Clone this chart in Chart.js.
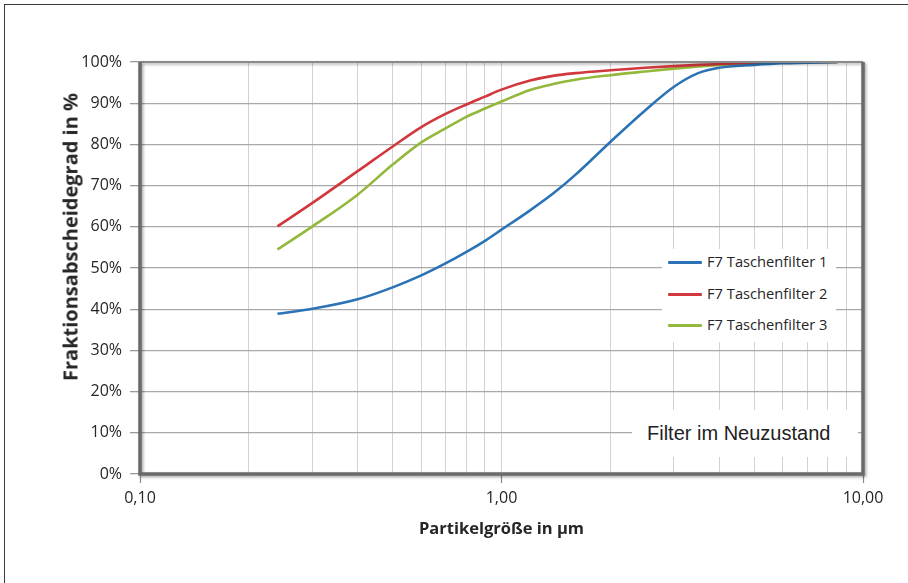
<!DOCTYPE html>
<html lang="de">
<head>
<meta charset="utf-8">
<script src="https://cdn.jsdelivr.net/npm/chart.js@4"></script>
<style>
  html, body { margin: 0; padding: 0; background: #fff; }
  #wrap { position: relative; width: 908px; height: 583px; overflow: hidden; background: #fff; }
  #frame { position: absolute; left: 4px; top: 4px; width: 940px; height: 620px; border: 1px solid #3a3a3a; box-sizing: border-box; }
  canvas { position: absolute; left: 0; top: 0; }
  #ytitle { position: absolute; left: 70px; top: 237px; transform: translate(-50%, -50%) rotate(-90deg);
            font: bold 20px "Open Sans", sans-serif; color: #262626; white-space: nowrap; }
  #legend { position: absolute; left: 662px; top: 249px; width: 174px; height: 93px; background: #fff; }
  .lg { position: absolute; left: 0; height: 20px; font: 14.7px "Open Sans", sans-serif; color: #262626; white-space: nowrap; }
  .lg .sw { position: absolute; left: 6px; top: 9px; width: 34px; height: 3px; border-radius: 1px; }
  .lg .tx { position: absolute; left: 45px; top: -1px; line-height: 20px; }
  #note { position: absolute; left: 632px; top: 410px; width: 226px; height: 47px; background: #fff;
          font: 20px "Liberation Sans", Arial, sans-serif; color: #222; }
  #note span { position: absolute; left: 15px; top: 11px; line-height: 24px; white-space: nowrap; }
</style>
</head>
<body>
<div id="wrap">
  <div id="frame"></div>
  <canvas id="c" width="908" height="583"></canvas>
  <div id="ytitle">Fraktionsabscheidegrad in %</div>
  <div id="legend"></div>
  <div id="note"><span>Filter im Neuzustand</span></div>
</div>
<script>
// ---- data ----
const particleSizes = [0.24, 0.3, 0.4, 0.5, 0.6, 0.7, 0.8, 0.9, 1.0, 1.2, 1.4, 1.6, 2.0, 2.5, 3.0, 3.5, 4.0, 5.0, 6.0, 8.5];
const filter1 = [38.9, 40.1, 42.4, 45.3, 48.2, 51.1, 53.9, 56.6, 59.3, 64.0, 68.3, 72.6, 80.6, 88.3, 94.0, 97.3, 98.6, 99.3, 99.7, 100];
const filter2 = [60.1, 65.8, 73.5, 79.5, 84.2, 87.4, 89.7, 91.6, 93.3, 95.5, 96.7, 97.3, 98.0, 98.6, 99.0, 99.3, 99.5, 99.8, 100, 100];
const filter3 = [54.5, 60.1, 67.8, 75.1, 80.5, 83.9, 86.7, 88.7, 90.4, 93.2, 94.7, 95.7, 96.8, 97.7, 98.4, 98.9, 99.3, 99.7, 100, 100];
const seriesLabels = ['F7 Taschenfilter 1', 'F7 Taschenfilter 2', 'F7 Taschenfilter 3'];
const seriesColors = ['#2b73b6', '#d1383d', '#93b83c'];
const xGridValues = [0.1, 0.2, 0.3, 0.4, 0.5, 0.6, 0.7, 0.8, 0.9, 1, 2, 3, 4, 5, 6, 7, 8, 9, 10];
const xTickLabels = { 0.1: '0,10', 1: '1,00', 10: '10,00' };
const yTickValues = [0, 10, 20, 30, 40, 50, 60, 70, 80, 90, 100];
const xTitle = 'Partikelgröße in µm';

const seriesValues = [filter1, filter2, filter3];
const datasets = seriesValues.map((vals, i) => ({
  label: seriesLabels[i],
  data: particleSizes.map((x, j) => ({ x: x, y: vals[j] })),
  borderColor: seriesColors[i],
  backgroundColor: seriesColors[i],
  borderWidth: 2.6,
  pointRadius: 0,
  fill: false,
  cubicInterpolationMode: 'monotone'
}));

// legend (HTML text, built from the series arrays)
const lg = document.getElementById('legend');
seriesLabels.forEach((lab, i) => {
  const row = document.createElement('div');
  row.className = 'lg';
  row.style.top = (3 + i * 31.5) + 'px';
  row.innerHTML = '<div class="sw" style="background:' + seriesColors[i] + '"></div><div class="tx"></div>';
  row.querySelector('.tx').textContent = lab;
  lg.appendChild(row);
});

const isDecade = v => Math.abs(Math.log10(v) - Math.round(Math.log10(v))) < 1e-9;

const framePlugin = {
  id: 'plotFrame',
  afterDatasetsDraw(chart) {
    const { ctx, chartArea: a } = chart;
    ctx.save();
    ctx.shadowColor = 'rgba(0,0,0,0.35)';
    ctx.shadowBlur = 3;
    ctx.shadowOffsetX = 1.5;
    ctx.shadowOffsetY = 1.5;
    ctx.strokeStyle = '#8a8a8a';
    ctx.lineWidth = 2;
    ctx.beginPath();
    ctx.moveTo(a.left, a.top);
    ctx.lineTo(a.right, a.top);
    ctx.stroke();
    ctx.strokeStyle = '#6a6a6a';
    ctx.lineWidth = 3.5;
    ctx.beginPath();
    ctx.moveTo(a.left, a.top);
    ctx.lineTo(a.left, a.bottom);
    ctx.lineTo(a.right, a.bottom);
    ctx.lineTo(a.right, a.top);
    ctx.stroke();
    ctx.restore();
  }
};

new Chart(document.getElementById('c'), {
  type: 'line',
  data: { datasets: datasets },
  plugins: [framePlugin],
  options: {
    responsive: false,
    animation: false,
    devicePixelRatio: 1,
    layout: { padding: { top: 62, right: 45, bottom: 0, left: 0 } },
    plugins: { legend: { display: false }, tooltip: { enabled: false } },
    scales: {
      x: {
        type: 'logarithmic',
        min: 0.1,
        max: 10,
        afterBuildTicks: s => { s.ticks = xGridValues.map(v => ({ value: v, major: isDecade(v) })); },
        afterFit: s => { s.height = 109; },
        border: { display: false },
        grid: {
          color: '#d2d2d2',
          lineWidth: 1,
          tickLength: 9,
          tickColor: c => (c.tick && isDecade(c.tick.value)) ? '#8a8a8a' : 'rgba(0,0,0,0)',
          tickWidth: 1.2
        },
        ticks: {
          autoSkip: false,
          maxRotation: 0,
          padding: 6,
          color: '#262626',
          font: { family: '"Open Sans"', size: 16 },
          callback: v => xTickLabels[v] !== undefined ? xTickLabels[v] : ''
        },
        title: {
          display: true,
          text: xTitle,
          color: '#262626',
          font: { family: '"Open Sans"', size: 16.5, weight: 'bold' },
          padding: { top: 0, bottom: 44 }
        }
      },
      y: {
        min: 0,
        max: 100,
        afterBuildTicks: s => { s.ticks = yTickValues.map(v => ({ value: v })); },
        afterFit: s => { s.width = 140; },
        border: { display: false },
        grid: {
          color: '#a9a9a9',
          lineWidth: 1.3,
          tickLength: 10,
          tickColor: '#9a9a9a'
        },
        ticks: {
          padding: 8,
          color: '#262626',
          font: { family: '"Open Sans"', size: 16 },
          callback: v => v + '%'
        }
      }
    }
  }
});
</script>
</body>
</html>
